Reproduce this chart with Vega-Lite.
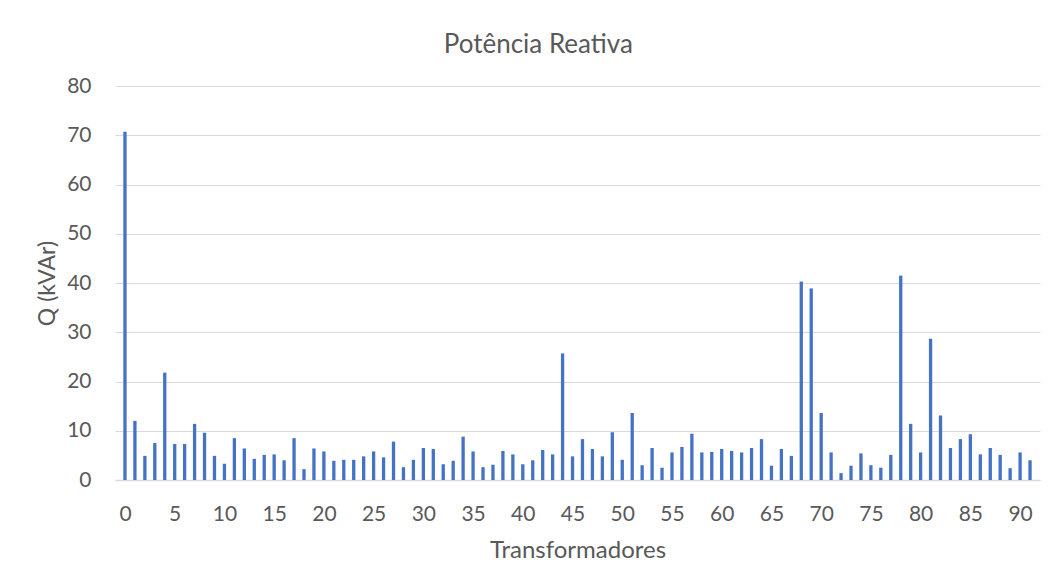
{
  "$schema": "https://vega.github.io/schema/vega-lite/v6.json",
  "width": 925,
  "height": 394,
  "autosize": {"type": "none"},
  "padding": {"left": 115, "top": 86, "right": 19, "bottom": 99},
  "background": "white",
  "config": {"view": {"stroke": null}, "font": "Lato"},
  "title": {"text": "Potência Reativa", "fontSize": 26, "fontWeight": "normal", "color": "#595959", "anchor": "middle", "frame": "bounds", "offset": 17},
  "data": {"values": [
    {"t":0,"q":70.7},{"t":1,"q":12.0},{"t":2,"q":4.9},{"t":3,"q":7.5},{"t":4,"q":21.8},
    {"t":5,"q":7.3},{"t":6,"q":7.3},{"t":7,"q":11.4},{"t":8,"q":9.6},{"t":9,"q":4.9},
    {"t":10,"q":3.3},{"t":11,"q":8.5},{"t":12,"q":6.4},{"t":13,"q":4.3},{"t":14,"q":5.1},
    {"t":15,"q":5.2},{"t":16,"q":4.0},{"t":17,"q":8.5},{"t":18,"q":2.2},{"t":19,"q":6.4},
    {"t":20,"q":5.8},{"t":21,"q":3.9},{"t":22,"q":4.1},{"t":23,"q":4.1},{"t":24,"q":4.8},
    {"t":25,"q":5.8},{"t":26,"q":4.6},{"t":27,"q":7.8},{"t":28,"q":2.6},{"t":29,"q":4.1},
    {"t":30,"q":6.5},{"t":31,"q":6.3},{"t":32,"q":3.2},{"t":33,"q":3.9},{"t":34,"q":8.8},
    {"t":35,"q":5.8},{"t":36,"q":2.6},{"t":37,"q":3.1},{"t":38,"q":5.9},{"t":39,"q":5.2},
    {"t":40,"q":3.2},{"t":41,"q":4.0},{"t":42,"q":6.1},{"t":43,"q":5.2},{"t":44,"q":25.7},
    {"t":45,"q":4.8},{"t":46,"q":8.3},{"t":47,"q":6.3},{"t":48,"q":4.8},{"t":49,"q":9.7},
    {"t":50,"q":4.1},{"t":51,"q":13.6},{"t":52,"q":3.0},{"t":53,"q":6.5},{"t":54,"q":2.5},
    {"t":55,"q":5.6},{"t":56,"q":6.7},{"t":57,"q":9.4},{"t":58,"q":5.6},{"t":59,"q":5.7},
    {"t":60,"q":6.3},{"t":61,"q":5.9},{"t":62,"q":5.6},{"t":63,"q":6.5},{"t":64,"q":8.3},
    {"t":65,"q":2.9},{"t":66,"q":6.3},{"t":67,"q":4.9},{"t":68,"q":40.3},{"t":69,"q":38.9},
    {"t":70,"q":13.6},{"t":71,"q":5.6},{"t":72,"q":1.4},{"t":73,"q":2.9},{"t":74,"q":5.4},
    {"t":75,"q":3.0},{"t":76,"q":2.5},{"t":77,"q":5.1},{"t":78,"q":41.5},{"t":79,"q":11.4},
    {"t":80,"q":5.6},{"t":81,"q":28.7},{"t":82,"q":13.1},{"t":83,"q":6.5},{"t":84,"q":8.3},
    {"t":85,"q":9.3},{"t":86,"q":5.2},{"t":87,"q":6.5},{"t":88,"q":5.1},{"t":89,"q":2.4},
    {"t":90,"q":5.6},{"t":91,"q":4.0}
  ]},
  "mark": {"type": "bar", "size": 3.3, "color": "#4472C4"},
  "encoding": {
    "x": {
      "field": "t", "type": "quantitative",
      "scale": {"domain": [-0.5, 91.5], "nice": false, "zero": false},
      "axis": {
        "values": [0,5,10,15,20,25,30,35,40,45,50,55,60,65,70,75,80,85,90],
        "title": "Transformadores", "titleFontSize": 24, "titleFontWeight": "normal", "titleColor": "#595959", "titlePadding": 14,
        "labelFontSize": 21, "labelColor": "#595959", "labelPadding": 23,
        "ticks": false, "domain": true, "domainColor": "#d9d9d9", "domainWidth": 1.5, "grid": false
      }
    },
    "y": {
      "field": "q", "type": "quantitative",
      "scale": {"domain": [0, 80], "nice": false},
      "axis": {
        "values": [0,10,20,30,40,50,60,70,80],
        "title": "Q (kVAr)", "titleFontSize": 23, "titleFontWeight": "normal", "titleColor": "#595959", "titlePadding": 7,
        "labelFontSize": 21, "labelColor": "#595959", "labelPadding": 24,
        "ticks": false, "domain": false, "grid": true, "gridColor": "#d9d9d9", "gridWidth": 1
      }
    }
  }
}
